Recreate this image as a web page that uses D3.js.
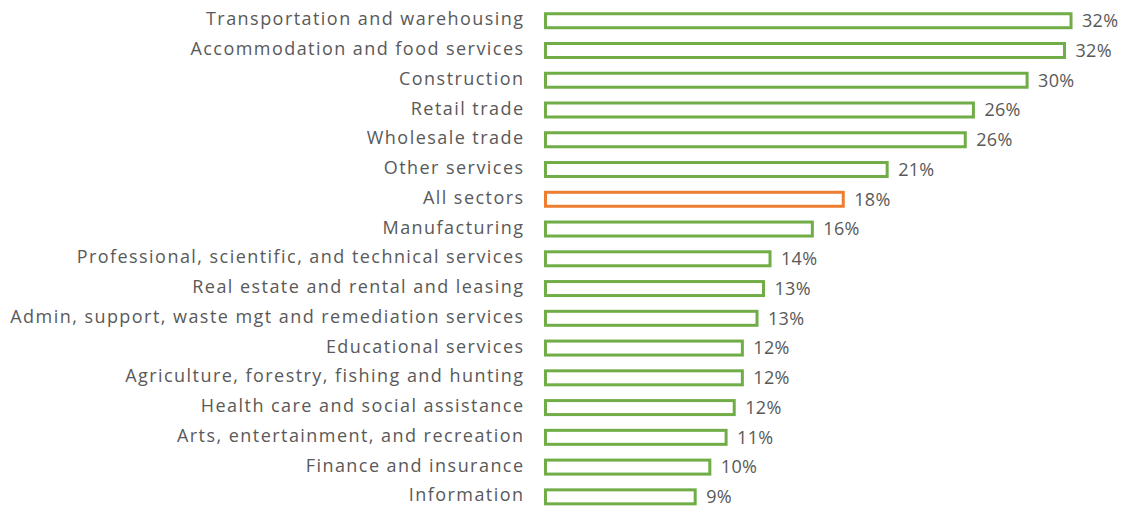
<!DOCTYPE html>
<html>
<head>
<meta charset="utf-8">
<script src="https://cdn.jsdelivr.net/npm/d3@7"></script>
<style>
  body { margin: 0; background: #fff; }
  .label { font-family: "Open Sans", sans-serif; font-size: 18px; fill: #595959; }
  .cat { letter-spacing: 1.45px; }
  .val { letter-spacing: 0.3px; }
</style>
</head>
<body>
<div id="chart"></div>
<script>
const width = 1129;
const height = 508;

// Sectors, top to bottom
const sectors = [
    "Transportation and warehousing",
    "Accommodation and food services",
    "Construction",
    "Retail trade",
    "Wholesale trade",
    "Other services",
    "All sectors",
    "Manufacturing",
    "Professional, scientific, and technical services",
    "Real estate and rental and leasing",
    "Admin, support, waste mgt and remediation services",
    "Educational services",
    "Agriculture, forestry, fishing and hunting",
    "Health care and social assistance",
    "Arts, entertainment, and recreation",
    "Finance and insurance",
    "Information"
];

// Share (%)
const shares = [32.3, 31.9, 29.6, 26.3, 25.8, 21.0, 18.3, 16.4, 13.8, 13.4, 13.0, 12.1, 12.1, 11.6, 11.1, 10.1, 9.2];

const highlight = "All sectors";

const data = sectors.map((s, i) => ({ sector: s, share: shares[i] }));

const svg = d3.select("#chart")
    .append("svg")
    .attr("width", width)
    .attr("height", height);

const x0 = 545.5;
const xScale = d3.scaleLinear()
    .domain([0, 35])
    .range([x0, x0 + 35 * 16.27]);

const yScale = d3.scaleBand()
    .domain(sectors)
    .range([6, 6 + 29.74 * sectors.length])
    .paddingInner(0.53)
    .paddingOuter(0.26);

// Bars (outlined)
svg.selectAll("rect.bar")
    .data(data)
    .join("rect")
    .attr("class", "bar")
    .attr("x", xScale(0))
    .attr("y", d => yScale(d.sector))
    .attr("width", d => xScale(d.share) - xScale(0))
    .attr("height", yScale.bandwidth())
    .attr("fill", "#fff")
    .attr("stroke", d => d.sector === highlight ? "#ED7D31" : "#70AD47")
    .attr("stroke-width", 3);

// Category labels
svg.selectAll("text.cat")
    .data(data)
    .join("text")
    .attr("class", "label cat")
    .attr("x", 524.5)
    .attr("y", d => yScale(d.sector) + yScale.bandwidth() / 2)
    .attr("dy", "0.25em")
    .attr("text-anchor", "end")
    .text(d => d.sector);

// Value labels
svg.selectAll("text.val")
    .data(data)
    .join("text")
    .attr("class", "label val")
    .attr("x", d => xScale(d.share) + 11)
    .attr("y", d => yScale(d.sector) + yScale.bandwidth() / 2)
    .attr("dy", "0.35em")
    .text(d => Math.round(d.share) + "%");
</script>
</body>
</html>
